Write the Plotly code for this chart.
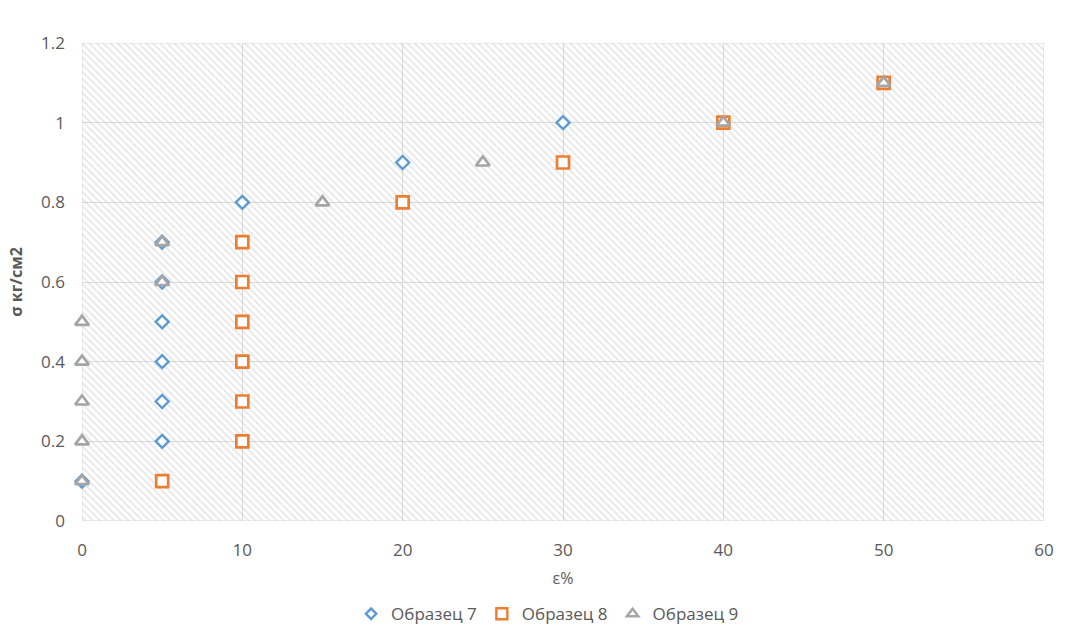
import plotly.graph_objects as go

# Strain (ε, %) and stress (σ, кг/см2) readings for each sample
eps_7 = [0, 5, 5, 5, 5, 5, 5, 10, 20, 30]
sig_7 = [0.1, 0.2, 0.3, 0.4, 0.5, 0.6, 0.7, 0.8, 0.9, 1.0]

eps_8 = [5, 10, 10, 10, 10, 10, 10, 20, 30, 40, 50]
sig_8 = [0.1, 0.2, 0.3, 0.4, 0.5, 0.6, 0.7, 0.8, 0.9, 1.0, 1.1]

eps_9 = [0, 0, 0, 0, 0, 5, 5, 15, 25, 40, 50]
sig_9 = [0.1, 0.2, 0.3, 0.4, 0.5, 0.6, 0.7, 0.8, 0.9, 1.0, 1.1]

series_names = ["Образец 7", "Образец 8", "Образец 9"]

x_ticks = [0, 10, 20, 30, 40, 50, 60]
y_ticks = [0, 0.2, 0.4, 0.6, 0.8, 1.0, 1.2]
y_tick_text = ["0", "0.2", "0.4", "0.6", "0.8", "1", "1.2"]

X_RANGE = [0, 60]
Y_RANGE = [0, 1.2]

FONT = "Open Sans"
GRID = "#d9d9d9"
TEXT = "#595959"

styles = [
    dict(symbol="diamond", color="#5b9bd5", size=10, width=2.4, legend_size=8),
    dict(symbol="square", color="#ed7d31", size=12, width=2.7, legend_size=11),
    dict(symbol="triangle-up", color="#a5a5a5", size=12, width=2.7, legend_size=10),
]
data = [(eps_7, sig_7), (eps_8, sig_8), (eps_9, sig_9)]

fig = go.Figure()

# hatched plot-area background
fig.add_trace(go.Scatter(
    x=[X_RANGE[0], X_RANGE[1], X_RANGE[1], X_RANGE[0], X_RANGE[0]],
    y=[Y_RANGE[0], Y_RANGE[0], Y_RANGE[1], Y_RANGE[1], Y_RANGE[0]],
    mode="lines", line=dict(width=0), fill="toself",
    fillcolor="rgba(0,0,0,0)",
    fillpattern=dict(shape="\\", fgcolor="#d0d0d0", bgcolor="rgba(255,255,255,0)",
                     size=5, solidity=0.35),
    hoverinfo="skip", showlegend=False,
))

for name, st, (xs, ys) in zip(series_names, styles, data):
    fig.add_trace(go.Scatter(
        x=xs, y=ys, mode="markers", name=name, legendgroup=name, showlegend=False,
        cliponaxis=False,
        marker=dict(symbol=st["symbol"], size=st["size"], color="white",
                    line=dict(color=st["color"], width=st["width"])),
    ))

# legend entries with smaller symbols
for name, st in zip(series_names, styles):
    fig.add_trace(go.Scatter(
        x=[None], y=[None], mode="markers", name=name, legendgroup=name,
        marker=dict(symbol=st["symbol"], size=st["legend_size"], color="white",
                    line=dict(color=st["color"], width=2.4)),
    ))

# plot-area border
fig.add_shape(type="rect", xref="x", yref="y",
              x0=X_RANGE[0], x1=X_RANGE[1], y0=Y_RANGE[0], y1=Y_RANGE[1],
              line=dict(color=GRID, width=1), layer="below")

fig.update_layout(
    width=1074, height=641,
    margin=dict(l=82, r=30, t=43, b=120, autoexpand=False),
    paper_bgcolor="white", plot_bgcolor="white",
    font=dict(family=FONT, size=17, color=TEXT),
    showlegend=True,
    legend=dict(orientation="h", x=0.484, xanchor="center", y=-0.195, yanchor="middle",
                font=dict(family=FONT, size=17, color=TEXT),
                itemsizing="trace", itemwidth=30),
    xaxis=dict(range=X_RANGE, tickvals=x_ticks, showgrid=True, gridcolor=GRID,
               gridwidth=1, zeroline=False, showline=False, ticks="", automargin=False,
               ticklabelstandoff=17,
               title=dict(text="ε%", font=dict(family=FONT, size=16, color=TEXT),
                          standoff=12)),
    yaxis=dict(range=Y_RANGE, tickvals=y_ticks, ticktext=y_tick_text, showgrid=True,
               gridcolor=GRID, gridwidth=1, zeroline=False, showline=False, ticks="",
               automargin=False, ticklabelstandoff=16,
               title=dict(text="<b>σ кг/см2</b>", font=dict(family=FONT, size=16, color=TEXT),
                          standoff=14)),
)

fig.write_html("out.html")
